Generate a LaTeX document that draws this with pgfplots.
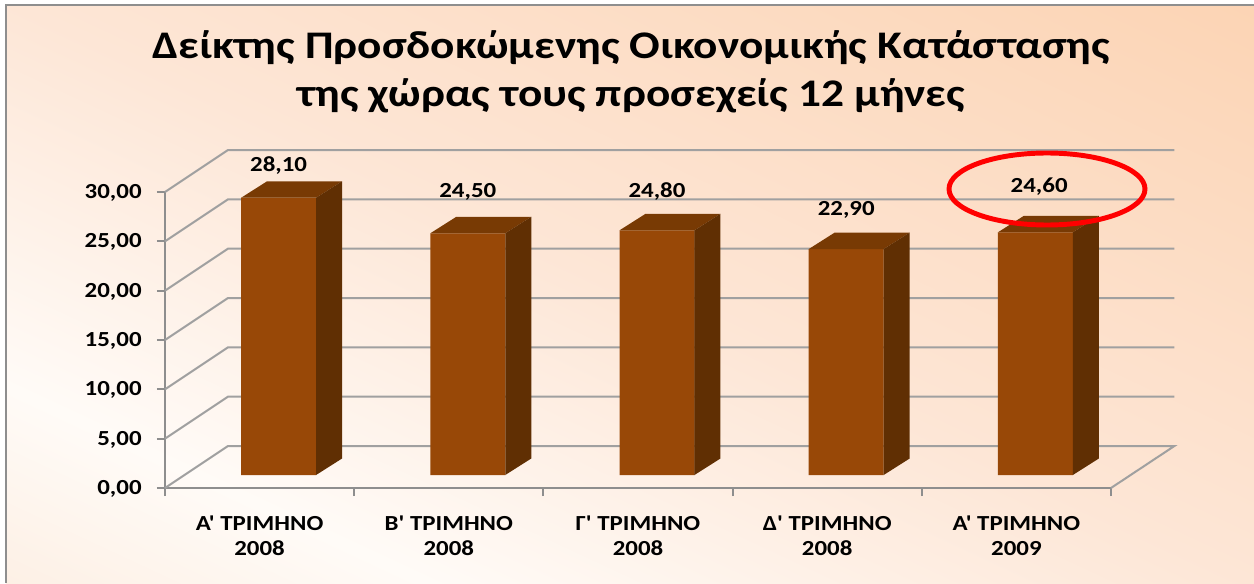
\documentclass[border=0pt]{standalone}
\usepackage{pgfplots}
\usepackage{pgfplotstable}
\usepackage{fontspec}
\pgfplotsset{compat=1.18}
\newfontfamily\cf[FakeStretch=1.16]{Carlito}
\definecolor{gridc}{HTML}{A0A0A0}
\definecolor{axc}{HTML}{8E8E8E}
\definecolor{barf}{HTML}{984807}
\definecolor{bart}{HTML}{783A04}
\definecolor{bars}{HTML}{602F03}
\pgfdeclareverticalshading{bgs}{1800bp}{
 rgb(0bp)=(0.992,0.941,0.898);
 rgb(200bp)=(0.992,0.941,0.898);
 rgb(333bp)=(1,0.984,0.969);
 rgb(594bp)=(0.992,0.902,0.839);
 rgb(989bp)=(0.988,0.831,0.706);
 rgb(1189bp)=(0.988,0.831,0.706)}
\pgfplotstableread{
cat val
0 28.10
1 24.50
2 24.80
3 22.90
4 24.60
}\bardata
\pgfplotstableread{
x y lab
0 31.40 28,10
1 28.67 24,50
2 28.77 24,80
3 26.85 22,90
4.02 29.18 24,60
}\labdata
\begin{document}
\begin{tikzpicture}[x=0.75pt,y=0.75pt]
\path[use as bounding box,fill=white] (0,0) rectangle (1254,583);
\begin{scope}
 \clip (6,0) rectangle (1254,578);
 \node[inner sep=0pt,rotate=-25] at (630,291.5) {\pgfuseshading{bgs}};
\end{scope}
\draw[axc,line width=1.9pt] (6,0) -- (6,578) -- (1254,578);
\node[align=center,font=\cf\bfseries\fontsize{29.3}{36}\selectfont,inner sep=0pt] at (631,511.5) {Δείκτης Προσδοκώμενης Οικονομικής Κατάστασης\\της χώρας τους προσεχείς 12 μήνες};
% walls and axes
\begin{axis}[at={(123.75pt,71.25pt)},anchor=south west,scale only axis,width=709.5pt,height=222pt,
 xmin=-0.5,xmax=4.5,ymin=0,ymax=30,clip=false,
 axis x line=bottom,axis y line=left,
 axis line style={-,axc,line width=1.5pt},
 xtick={0,1,2,3,4},
 xticklabels={{Α' ΤΡΙΜΗΝΟ\\2008},{Β' ΤΡΙΜΗΝΟ\\2008},{Γ' ΤΡΙΜΗΝΟ\\2008},{Δ' ΤΡΙΜΗΝΟ\\2008},{Α' ΤΡΙΜΗΝΟ\\2009}},
 minor xtick={-0.5,0.5,1.5,2.5,3.5,4.5},
 ytick={0,5,10,15,20,25,30},
 major x tick style={draw=none},
 minor x tick style={axc,line width=1.5pt},
 y tick style={axc,line width=1.5pt},
 tick align=outside,
 major tick length=6pt,minor tick length=6pt,
 yticklabel style={font=\cf\bfseries\fontsize{16.1}{19}\selectfont,xshift=-8pt,yshift=-0.6pt,
   /pgf/number format/fixed,/pgf/number format/fixed zerofill,/pgf/number format/precision=2,/pgf/number format/use comma,/pgf/number format/assume math mode=true},
 xticklabel style={font=\cf\bfseries\fontsize{16.1}{19}\selectfont,align=center,yshift=-11pt},
]
\addplot[gridc,line width=1.5pt] coordinates {(-0.5,0) (-0.167,4.255) (4.835,4.255) (4.5,0)};
\addplot[gridc,line width=1.5pt] coordinates {(-0.5,5) (-0.167,9.255) (4.835,9.255)};
\addplot[gridc,line width=1.5pt] coordinates {(-0.5,10) (-0.167,14.255) (4.835,14.255)};
\addplot[gridc,line width=1.5pt] coordinates {(-0.5,15) (-0.167,19.255) (4.835,19.255)};
\addplot[gridc,line width=1.5pt] coordinates {(-0.5,20) (-0.167,24.255) (4.835,24.255)};
\addplot[gridc,line width=1.5pt] coordinates {(-0.5,25) (-0.167,29.255) (4.835,29.255)};
\addplot[gridc,line width=1.5pt] coordinates {(-0.5,30) (-0.167,34.255) (4.835,34.255)};
\end{axis}
% bars
\begin{axis}[at={(138pt,81pt)},anchor=south west,scale only axis,width=709.5pt,height=222pt,
 xmin=-0.5,xmax=4.5,ymin=0,ymax=30,clip=false,axis lines=none]
\addplot[ybar,bar width=56.25pt,fill=barf,draw=none] table[x=cat,y=val] {\bardata};
% top faces
\addplot[fill=bart,draw=none] coordinates {(-0.198,28.1) (0.198,28.1) (0.3354,29.772) (-0.0606,29.772)} -- cycle;
\addplot[fill=bart,draw=none] coordinates {(0.802,24.5) (1.198,24.5) (1.3354,26.172) (0.9394,26.172)} -- cycle;
\addplot[fill=bart,draw=none] coordinates {(1.802,24.8) (2.198,24.8) (2.3354,26.472) (1.9394,26.472)} -- cycle;
\addplot[fill=bart,draw=none] coordinates {(2.802,22.9) (3.198,22.9) (3.3354,24.572) (2.9394,24.572)} -- cycle;
\addplot[fill=bart,draw=none] coordinates {(3.802,24.6) (4.198,24.6) (4.3354,26.272) (3.9394,26.272)} -- cycle;
% side faces
\addplot[fill=bars,draw=none] coordinates {(0.198,0) (0.3354,1.672) (0.3354,29.772) (0.198,28.1)} -- cycle;
\addplot[fill=bars,draw=none] coordinates {(1.198,0) (1.3354,1.672) (1.3354,26.172) (1.198,24.5)} -- cycle;
\addplot[fill=bars,draw=none] coordinates {(2.198,0) (2.3354,1.672) (2.3354,26.472) (2.198,24.8)} -- cycle;
\addplot[fill=bars,draw=none] coordinates {(3.198,0) (3.3354,1.672) (3.3354,24.572) (3.198,22.9)} -- cycle;
\addplot[fill=bars,draw=none] coordinates {(4.198,0) (4.3354,1.672) (4.3354,26.272) (4.198,24.6)} -- cycle;
% data labels
\addplot[only marks,mark=none,point meta=explicit symbolic,
 nodes near coords,
 every node near coord/.style={anchor=center,inner sep=0pt,font=\cf\bfseries\fontsize{16.1}{19}\selectfont,black}]
 table[x=x,y=y,meta=lab] {\labdata};
\end{axis}
\draw[red,line width=3.7pt] (1047,394) ellipse [x radius=98,y radius=36];
\end{tikzpicture}
\end{document}
